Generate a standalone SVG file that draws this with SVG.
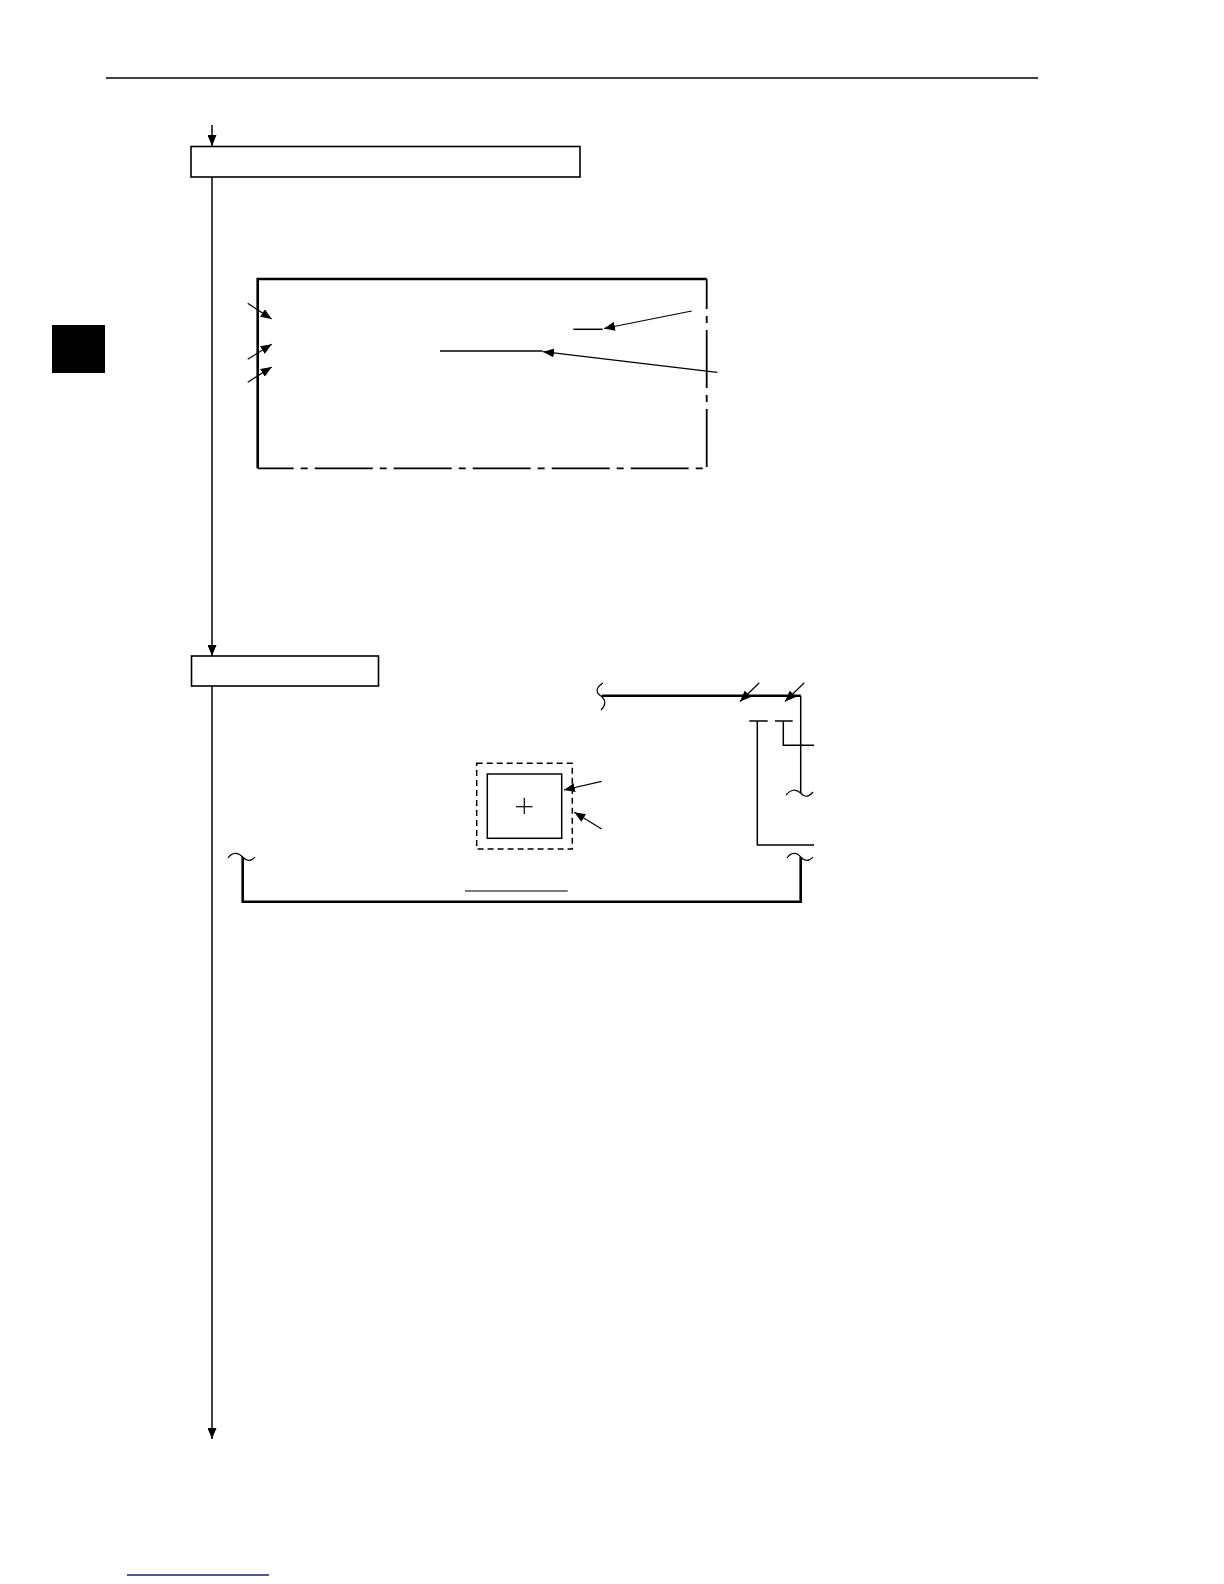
<svg xmlns="http://www.w3.org/2000/svg" width="1224" height="1584" viewBox="0 0 1224 1584">
<style>
.ln{fill:none;stroke:#000;stroke-width:1.5}
.thin{fill:none;stroke:#000;stroke-width:1.2}
.thick{fill:none;stroke:#000;stroke-width:2.6}
.box{fill:#fff;stroke:#000;stroke-width:1.6}
.dd{fill:none;stroke:#000;stroke-width:1.8;stroke-dasharray:58 7 7 7}
.dash{fill:none;stroke:#000;stroke-width:1.5;stroke-dasharray:6 4}
</style>
<defs>
<marker id="ah" markerUnits="userSpaceOnUse" markerWidth="11" markerHeight="9" refX="11" refY="4.5" orient="auto">
<path d="M0,0 L11,4.5 L0,9 z" fill="#000"/>
</marker>
</defs>
<rect width="1224" height="1584" fill="#fff"/>
<g id="page">
<line x1="106" y1="78" x2="1038" y2="78" stroke="#000" stroke-width="1.3"/>
<rect x="52" y="325" width="53" height="48" fill="#000"/>
<line x1="127" y1="1575" x2="269" y2="1575" stroke="#1a1a80" stroke-width="1.5"/>
</g>
<g id="connectors">
<line class="ln" x1="212" y1="125" x2="212" y2="146" marker-end="url(#ah)"/>
<line class="ln" x1="212" y1="177" x2="212" y2="656" marker-end="url(#ah)"/>
<line class="ln" x1="212" y1="686" x2="212" y2="1439" marker-end="url(#ah)"/>
</g>
<g id="step1">
<rect class="box" x="191" y="146.5" width="389" height="30.5"/>
</g>
<g id="step2">
<rect class="box" x="191.5" y="656" width="187" height="30"/>
</g>
<g id="screen">
<path class="thick" d="M257.7,468.3 V279 H706.7"/>
<path class="dd" d="M706.7,279 V468.3" style="stroke-dasharray:30 7 7 7 58 7 7 7 58 7"/>
<path class="dd" d="M257.7,468.3 H706.7" style="stroke-dasharray:36 7 7 7 58 7 7 7 58 7 7 7 58 7 7 7 58 7 7 7 58 7 7 7"/>
<line class="thin" x1="247.7" y1="303.3" x2="271.7" y2="319" marker-end="url(#ah)"/>
<line class="thin" x1="247.7" y1="359.3" x2="271.7" y2="344.3" marker-end="url(#ah)"/>
<line class="thin" x1="247.7" y1="382.3" x2="271.7" y2="367" marker-end="url(#ah)"/>
<line class="ln" x1="573.3" y1="329.3" x2="602.7" y2="329.3"/>
<line class="thin" x1="691.7" y1="311" x2="604" y2="328.5" marker-end="url(#ah)"/>
<line class="ln" x1="440" y1="351" x2="542.7" y2="351"/>
<line class="thin" x1="717.3" y1="372.3" x2="543" y2="351.7" marker-end="url(#ah)"/>
</g>
<g id="detail">
<path class="thin" d="M603,683 C595,688 596,693 601,696 C606,700 606,705 601,710"/>
<line class="thick" x1="601.7" y1="695.7" x2="800.7" y2="695.7"/>
<path class="ln" d="M800.7,695.7 V793"/>
<path class="thin" d="M786,795 C791,789 796,789 800.7,793 C804,797 808,798 813,792"/>
<line class="thin" x1="759.3" y1="682.7" x2="740" y2="701.5" marker-end="url(#ah)"/>
<line class="thin" x1="804.3" y1="682.7" x2="785" y2="701.5" marker-end="url(#ah)"/>
<line class="ln" x1="749.3" y1="721" x2="767.7" y2="721"/>
<path class="ln" d="M757.3,721 V845 H814"/>
<line class="ln" x1="775" y1="721" x2="792.7" y2="721"/>
<path class="ln" d="M783.3,721 V745.3 H814"/>
</g>
<g id="window">
<rect class="dash" x="476.7" y="763.3" width="95.6" height="85.7"/>
<rect class="ln" x="487.3" y="774" width="74.4" height="64.3"/>
<line class="thin" x1="516" y1="806.7" x2="532.6" y2="806.7"/>
<line class="thin" x1="524.3" y1="797.7" x2="524.3" y2="814"/>
<line class="thin" x1="601.7" y1="781.3" x2="564" y2="790" marker-end="url(#ah)"/>
<line class="thin" x1="601.7" y1="829" x2="574.3" y2="812.3" marker-end="url(#ah)"/>
</g>
<g id="bracket">
<path class="thin" d="M228,858 C232,852 238,852 242.7,857 C246,861 251,862 255,857"/>
<path class="thin" d="M787,858 C791,852 797,852 800.7,857 C804,861 809,862 813,857"/>
<path class="thick" d="M242.7,857 V901.7 H800.7 V857" stroke-width="3"/>
<line x1="465" y1="891" x2="567.7" y2="891" stroke="#7a7a7a" stroke-width="2"/>
</g>
</svg>
